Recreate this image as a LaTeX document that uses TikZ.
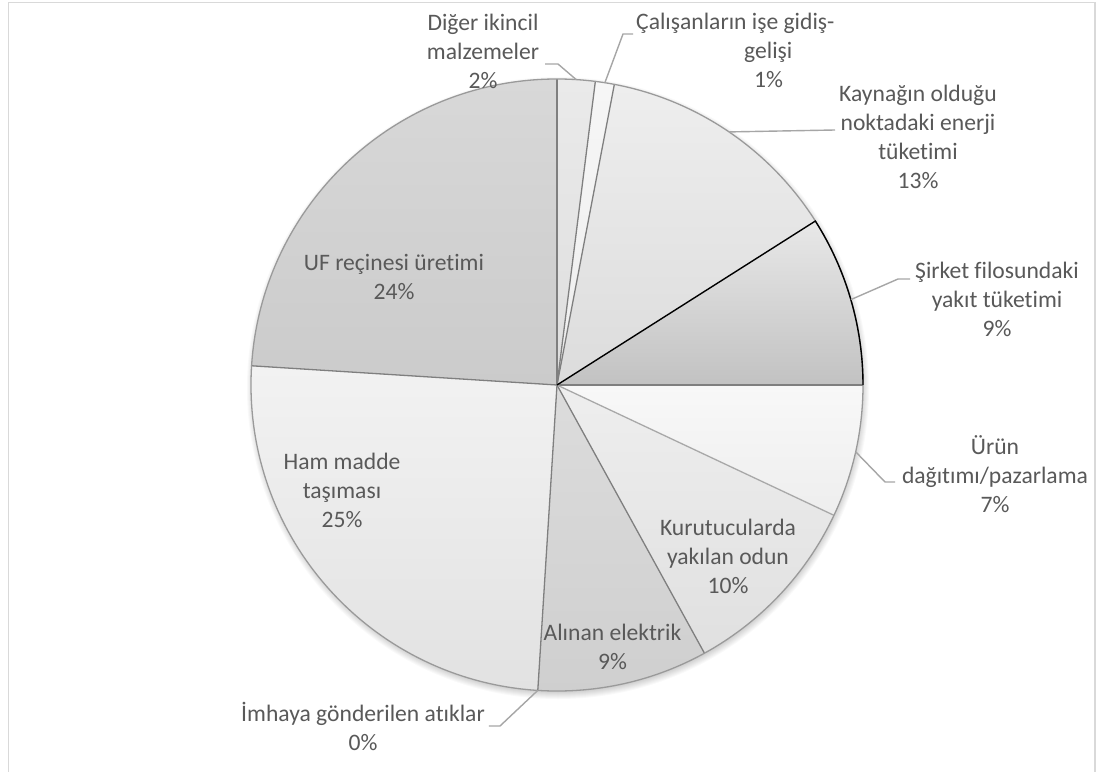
\documentclass[tikz,border=0pt]{standalone}
\usepackage{fontspec}
\setmainfont{Carlito}[RawFeature={-liga,-clig,-dlig}]
\usetikzlibrary{calc}

% label and line colours
\definecolor{labelgrey}{HTML}{595959}
\definecolor{leadergrey}{HTML}{A6A6A6}
\definecolor{edgegrey}{HTML}{7F7F7F}
\definecolor{edgelight}{HTML}{A8A8A8}
\definecolor{arcgrey}{HTML}{9A9A9A}
\definecolor{framegrey}{HTML}{D9D9D9}

% slice fills (top / bottom of each gradient)
\definecolor{digerT}{HTML}{EAEAEA}\definecolor{digerB}{HTML}{DEDEDE}
\definecolor{calT}{HTML}{F6F6F6}\definecolor{calB}{HTML}{EEEEEE}
\definecolor{kaynakT}{HTML}{EEEEEE}\definecolor{kaynakB}{HTML}{DCDCDC}
\definecolor{sirketT}{HTML}{E8E8E8}\definecolor{sirketB}{HTML}{C2C2C2}
\definecolor{urunT}{HTML}{F8F8F8}\definecolor{urunB}{HTML}{EEEEEE}
\definecolor{kuruT}{HTML}{EEEEEE}\definecolor{kuruB}{HTML}{E0E0E0}
\definecolor{alinanT}{HTML}{DCDCDC}\definecolor{alinanB}{HTML}{CFCFCF}
\definecolor{hamT}{HTML}{F2F2F2}\definecolor{hamB}{HTML}{E2E2E2}
\definecolor{ufT}{HTML}{D8D8D8}\definecolor{ufB}{HTML}{CBCBCB}

% one pie slice: start angle, end angle (clockwise), top colour, bottom colour
\newcommand\pieslice[4]{%
  \shade[top color=#3, bottom color=#4]
    (0,0) -- (#1:306) arc[start angle=#1, end angle=#2, radius=306] -- cycle;}

\begin{document}
\begin{tikzpicture}[x=1pt,y=1pt,
  lbl/.style={font=\fontsize{23.6}{29}\selectfont, text=labelgrey,
              align=center, inner sep=0pt},
  leader/.style={draw=leadergrey, line width=1.4pt},
  edge/.style={draw=edgegrey, line width=1.3pt}]

\clip (-557,-386) rectangle (548,385);
\fill[white] (-557,-386) rectangle (548,385);
\draw[draw=framegrey, line width=1.6pt] (-548.5,-430) rectangle (538,382.5);

% soft shadow under the pie
\foreach \i in {1,...,8}
  \fill[black, opacity=0.025] (1,-3) circle ({303+\i});

% slices, clockwise from twelve o'clock
\pieslice{90}{82.8}{digerT}{digerB}
\pieslice{82.8}{79.2}{calT}{calB}
\pieslice{79.2}{32.4}{kaynakT}{kaynakB}
\pieslice{32.4}{0}{sirketT}{sirketB}
\pieslice{0}{-25.2}{urunT}{urunB}
\pieslice{-25.2}{-61.2}{kuruT}{kuruB}
\pieslice{-61.2}{-93.6}{alinanT}{alinanB}
\pieslice{-93.6}{-183.6}{hamT}{hamB}
\pieslice{-183.6}{-270}{ufT}{ufB}

% slice borders
\foreach \a in {90,82.8,79.2,0,-61.2,-93.6,-183.6}
  \draw[edge] (0,0) -- (\a:306);
\draw[draw=edgelight, line width=1.3pt] (0,0) -- (-25.2:306);
\draw[draw=arcgrey, line width=1.3pt] (0,0) circle (306);
\draw[black, line width=1.4pt]
  (0,0) -- (32.4:306) arc[start angle=32.4, end angle=0, radius=306];

% labels
\node[lbl] (diger) at (-74,334) {Diğer ikincil\\malzemeler\\2\%};
\node[lbl, align=left, anchor=west] (calisan) at (79,335)
  {Çalışanların işe gidiş-\\\hspace*{108pt}gelişi\\\hspace*{118pt}1\%};
\node[lbl] (kaynak) at (361,248.5)
  {Kaynağın olduğu\\noktadaki enerji\\tüketimi\\13\%};
\node[lbl] (sirket) at (440,86) {Şirket filosundaki\\yakıt tüketimi\\9\%};
\node[lbl] (urun) at (438,-89) {Ürün\\dağıtımı/pazarlama\\7\%};
\node[lbl] (kuru) at (171,-171) {Kurutucularda\\yakılan odun\\10\%};
\node[lbl] (alinan) at (55.5,-262) {Alınan elektrik\\9\%};
\node[lbl] (imha) at (-194,-341) {İmhaya gönderilen atıklar\\0\%};
\node[lbl] (ham) at (-215,-105) {Ham madde\\taşıması\\25\%};
\node[lbl] (uf) at (-163,108) {UF reçinesi üretimi\\24\%};

% leader lines from the outer labels to their slices
\coordinate (pDiger)  at (86.4:306);
\coordinate (pCal)    at (81:306);
\coordinate (pKaynak) at (55.8:306);
\coordinate (pSirket) at (16.2:306);
\coordinate (pUrun)   at (-12.6:306);
\coordinate (pImha)   at (-93.6:306);

\coordinate (dA) at (-12,321);  \coordinate (dB) at (1,321);
\coordinate (cA) at (76,351);   \coordinate (cB) at (66,351);
\coordinate (kA) at (278,255);
\coordinate (sA) at (353,106);  \coordinate (sB) at (341,106);
\coordinate (uA) at (338,-97);  \coordinate (uB) at (328,-97);
\coordinate (iA) at (-68,-341); \coordinate (iB) at (-57,-341);

\draw[leader] (dA) -- (dB) -- (pDiger);
\draw[leader] (cA) -- (cB) -- (pCal);
\draw[leader] (kA) -- (pKaynak);
\draw[leader] (sA) -- (sB) -- (pSirket);
\draw[leader] (uA) -- (uB) -- (pUrun);
\draw[leader] (iA) -- (iB) -- (pImha);
\end{tikzpicture}
\end{document}
